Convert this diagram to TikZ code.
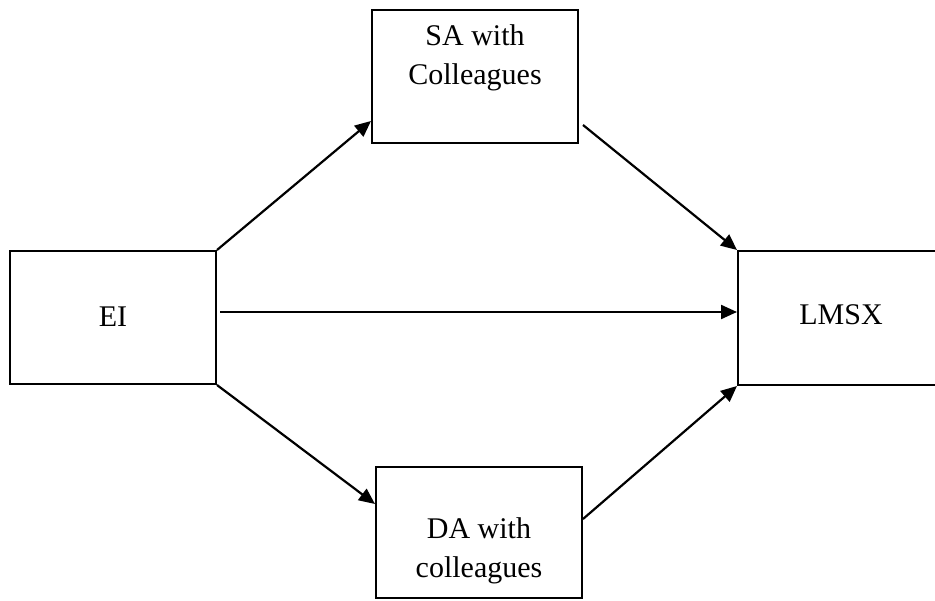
\documentclass[tikz,border=0pt]{standalone}
\usepackage{fontspec}
\setmainfont{Liberation Serif}
\usetikzlibrary{arrows.meta,calc}
\begin{document}
\begin{tikzpicture}[x=1pt,y=-1pt,
  box/.style={draw,line width=2pt,minimum width=206pt,inner sep=0pt},
  lbl/.style={font=\fontsize{30}{39}\selectfont,align=center,inner sep=0pt},
  arr/.style={line width=2.2pt,-{Triangle[length=16pt,width=14pt]}}]
\useasboundingbox (0,0) rectangle (935,601);
\node[box,minimum height=133pt] (ei) at (113,317.5) {};
\node[box,minimum height=133pt] (sa) at (475,76.5) {};
\node[box,minimum height=131pt] (da) at (479,532.5) {};
\node[box,minimum width=207pt,minimum height=134pt] (lmsx) at (841.5,318) {};
\node[lbl] (eit) at (113,317) {EI};
\node[lbl] (sat) at (475,57.5) {SA with\\Colleagues};
\node[lbl] (dat) at (479,551) {DA with\\colleagues};
\node[lbl] (lmsxt) at (841,315) {LMSX};
\coordinate (hs) at ($(ei.east)+(3,-5.5)$);
\draw[arr] (ei.north east) -- ($(sa.south west)+(0,-23)$);
\draw[arr] ($(sa.south east)+(4,-19)$) -- (lmsx.north west);
\draw[arr] (hs) -- (lmsx.west |- hs);
\draw[arr] (ei.south east) -- ($(da.north west)+(0,38)$);
\draw[arr] ($(da.north east)+(0,53)$) -- (lmsx.south west);
\end{tikzpicture}
\end{document}
